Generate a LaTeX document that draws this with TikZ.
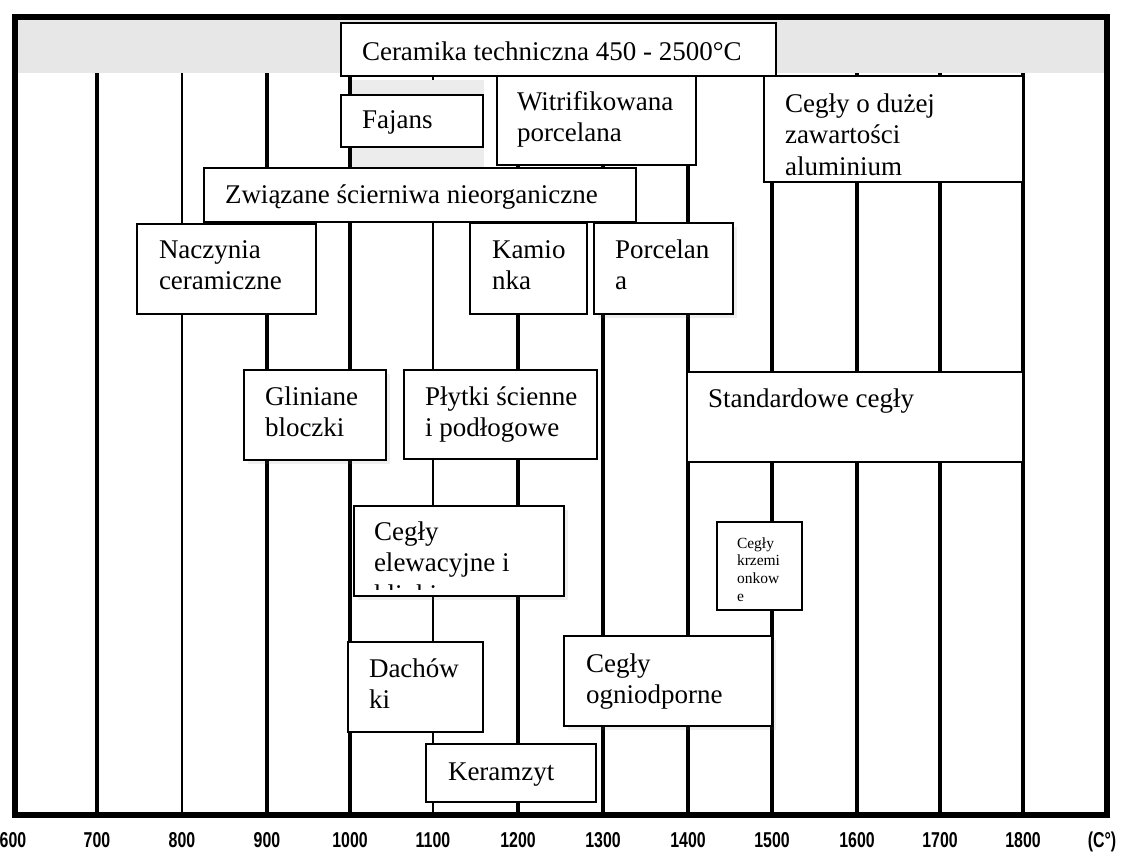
\documentclass[tikz,border=0pt]{standalone}
\usepackage{fontspec}
\usepackage{graphicx}
\setmainfont{Liberation Serif}
\newfontfamily\axisfont{Liberation Sans}
\usetikzlibrary{calc,shadows}
\definecolor{bandgray}{RGB}{231,231,231}
\definecolor{shadegray}{RGB}{236,236,236}
\newcommand{\boxtext}[1]{\begin{tabular}[t]{@{}l@{}}#1\end{tabular}}
\tikzset{
  frame/.style={line width=6pt},
  gridthick/.style={line width=4.6pt},
  gridthin/.style={line width=2.8pt},
  plate/.style={draw, fill=white, line width=1.8pt, inner sep=0pt, outer sep=0pt, anchor=north west},
  shadowed/.style={drop shadow={opacity=0.12, shadow xshift=4pt, shadow yshift=-4pt}},
  platetext/.style={inner sep=0pt, outer sep=0pt, anchor=base west, font=\fontsize{27}{31.5}\selectfont},
  smalltext/.style={inner sep=0pt, outer sep=0pt, anchor=base west, font=\fontsize{15.5}{17.7}\selectfont},
  ticklabel/.style={inner sep=0pt, anchor=base, font=\axisfont\bfseries\fontsize{21.5}{21.5}\selectfont}
}
\begin{document}
\begin{tikzpicture}[x=1pt,y=-1pt]
\useasboundingbox (0,0) rectangle (1123,855);
\fill[white] (0,0) rectangle (1123,855);

% header band
\fill[bandgray] (17,20) rectangle (1104,73);

% temperature grid
\foreach \gx in {97,267,350,518,603,688,772,857,940,1023}
  \draw[gridthick] (\gx,73) -- (\gx,815);
\foreach \gx in {182,433}
  \draw[gridthin] (\gx,73) -- (\gx,815);

% outer frame
\draw[frame] (14.5,17) rectangle (1107,815);

% light shade behind Fajans
\fill[shadegray] (352,80) rectangle (484,167);

% product ranges
\node[plate, minimum width=776-341, minimum height=76-23] (ceram) at (341,23) {};
\node[platetext] (ceram-t) at ($(ceram.north west)+(21,37)$) {Ceramika techniczna 450 - 2500°C};

\node[plate, minimum width=483-341, minimum height=147-95] (faj) at (341,95) {};
\node[platetext] (faj-t) at ($(faj.north west)+(21,33)$) {Fajans};

\node[plate, minimum width=696-497, minimum height=165-76] (witr) at (497,76) {};
\node[platetext] (witr-t) at ($(witr.north west)+(20,34)$) {\boxtext{Witrifikowana\\porcelana}};

\node[plate, minimum width=1023-764, minimum height=182-76] (alum) at (764,76) {};
\node[platetext] (alum-t) at ($(alum.north west)+(21,36)$) {\boxtext{Cegły o dużej\\zawartości\\aluminium}};

\node[plate, minimum width=636-204, minimum height=222-168] (zwiaz) at (204,168) {};
\node[platetext] (zwiaz-t) at ($(zwiaz.north west)+(21,35)$) {Związane ścierniwa nieorganiczne};

\node[plate, minimum width=316-137, minimum height=314-224] (nacz) at (137,224) {};
\node[platetext] (nacz-t) at ($(nacz.north west)+(22,34)$) {\boxtext{Naczynia\\ceramiczne}};

\node[plate, minimum width=587-470, minimum height=314-223] (kamio) at (470,223) {};
\node[platetext] (kamio-t) at ($(kamio.north west)+(22,35)$) {\boxtext{Kamio\\nka}};

\node[plate, shadowed, minimum width=733-594, minimum height=314-223] (porc) at (594,223) {};
\node[platetext] (porc-t) at ($(porc.north west)+(21,35)$) {\boxtext{Porcelan\\a}};

\node[plate, shadowed, minimum width=386-244, minimum height=460-370] (glin) at (244,370) {};
\node[platetext] (glin-t) at ($(glin.north west)+(21,35)$) {\boxtext{Gliniane\\bloczki}};

\node[plate, minimum width=597-404, minimum height=459-370] (plyt) at (404,370) {};
\node[platetext] (plyt-t) at ($(plyt.north west)+(21,35)$) {\boxtext{Płytki ścienne\\i podłogowe}};

\node[plate, minimum width=1023-687, minimum height=462-372] (stand) at (687,372) {};
\node[platetext] (stand-t) at ($(stand.north west)+(21,35)$) {Standardowe cegły};

\node[plate, shadowed, minimum width=564-354, minimum height=596-506] (elew) at (354,506) {};
\begin{scope}
  \clip (354,506) rectangle (564,589);
  \node[platetext] (elew-t) at ($(elew.north west)+(20,34)$) {\boxtext{Cegły\\elewacyjne i\\klinkier}};
\end{scope}

\node[plate, minimum width=802-717, minimum height=610-522] (krzem) at (717,522) {};
\node[smalltext] (krzem-t) at ($(krzem.north west)+(20,26)$) {\boxtext{Cegły\\krzemi\\onkow\\e}};

\node[plate, shadowed, minimum width=772-564, minimum height=726-636] (ognio) at (564,636) {};
\node[platetext] (ognio-t) at ($(ognio.north west)+(22,36)$) {\boxtext{Cegły\\ogniodporne}};

\node[plate, minimum width=483-348, minimum height=732-642] (dach) at (348,642) {};
\node[platetext] (dach-t) at ($(dach.north west)+(21,35)$) {\boxtext{Dachów\\ki}};

\node[plate, minimum width=596-426, minimum height=802-744] (keram) at (426,744) {};
\node[platetext] (keram-t) at ($(keram.north west)+(22,36)$) {Keramzyt};

% temperature axis
\foreach \tx/\tv in {13/600,97/700,182/800,267/900,350/1000,433/1100,518/1200,603/1300,688/1400,772/1500,857/1600,940/1700,1023/1800}
  \node[ticklabel] (t\tv) at (\tx,847) {\scalebox{0.74}[1]{\tv}};
\node[ticklabel] (tunit) at (1102,847) {\scalebox{0.74}[1]{(C°)}};
\end{tikzpicture}
\end{document}
